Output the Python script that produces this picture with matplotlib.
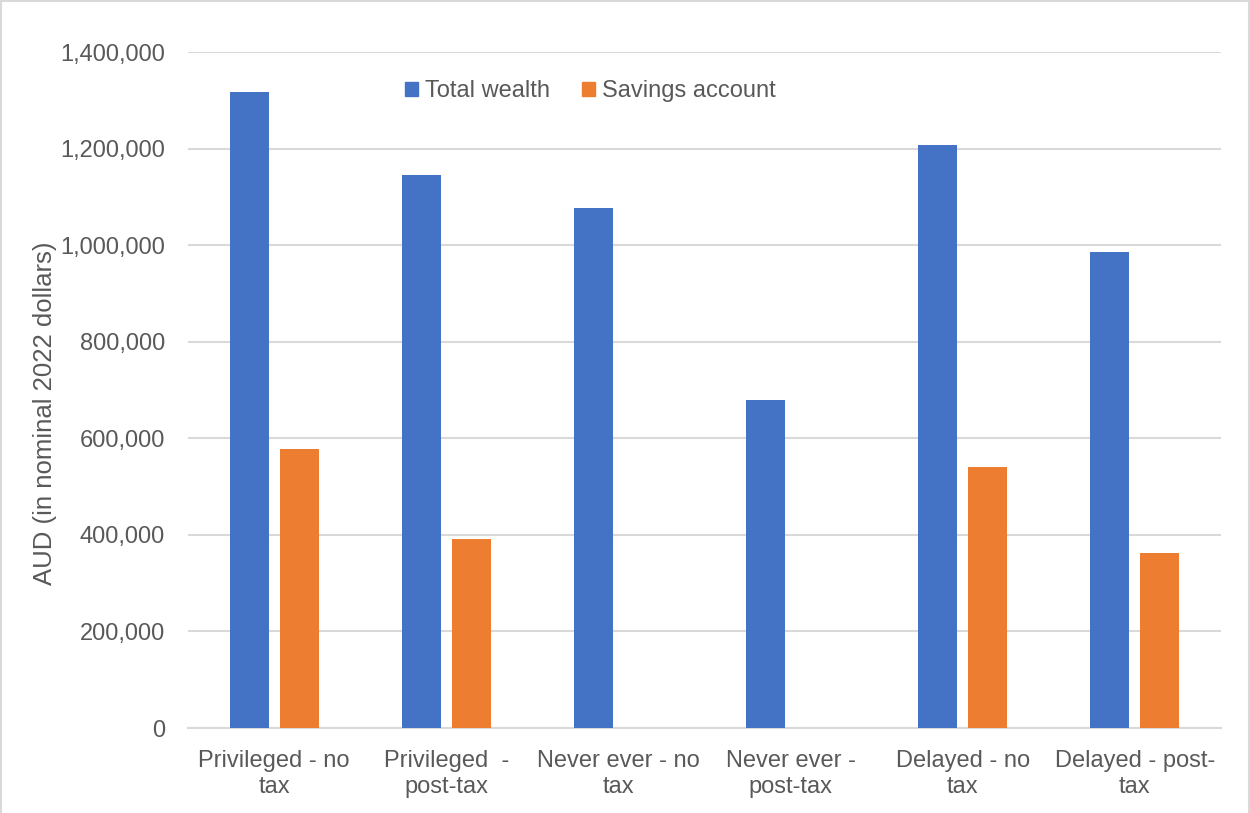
import matplotlib
matplotlib.use("Agg")
import matplotlib.pyplot as plt
import numpy as np
from matplotlib.ticker import FuncFormatter, MultipleLocator
from matplotlib.lines import Line2D

categories = ["Privileged - no\ntax", "Privileged  -\npost-tax", "Never ever - no\ntax",
              "Never ever -\npost-tax", "Delayed - no\ntax", "Delayed - post-\ntax"]
total_wealth = [1317000, 1145000, 1077000, 679000, 1208000, 986000]
savings_account = [578000, 392000, 0, 0, 541000, 362000]
series_names = ["Total wealth", "Savings account"]
colors = ["#4472C4", "#ED7D31"]

plt.rcParams['font.family'] = ['Liberation Sans', 'DejaVu Sans']
text_color = "#595959"
grid_color = "#D9D9D9"

fig = plt.figure(figsize=(12.5, 8.13), dpi=100)
ax = fig.add_axes([188/1250, 1-728/813, (1221-188)/1250, (728-52)/813])

x = np.arange(len(categories))
w = 0.226
off = 0.145
ax.bar(x - off, total_wealth, width=w, color=colors[0], label=series_names[0], zorder=3)
ax.bar(x + off, savings_account, width=w, color=colors[1], label=series_names[1], zorder=3)

ax.set_xlim(-0.5, len(categories) - 0.5)
ax.set_ylim(0, 1400000)
ax.yaxis.set_major_locator(MultipleLocator(200000))
ax.yaxis.set_major_formatter(FuncFormatter(lambda v, p: f"{int(v):,}"))
ax.grid(axis='y', color=grid_color, linewidth=1.5, zorder=0)
ax.set_axisbelow(True)
for s in ["top", "right", "left"]:
    ax.spines[s].set_visible(False)
ax.spines["bottom"].set_color(grid_color)
ax.spines["bottom"].set_linewidth(1.5)
ax.tick_params(axis='both', length=0, labelsize=17, colors=text_color)
ax.tick_params(axis='y', pad=16.5)
ax.tick_params(axis='x', pad=15.5)
ax.set_xticks(x)
ax.set_xticklabels(categories, linespacing=1.25)

fig.text(45/1250, 1-413/813, "AUD (in nominal 2022 dollars)", rotation=90,
         ha='center', va='center', fontsize=18.5, color=text_color)

handles = [plt.Rectangle((0, 0), 1, 1, color=c) for c in colors]
leg = ax.legend(handles, series_names, loc='center', bbox_to_anchor=(0.3896, (728-91)/676),
                ncol=2, frameon=False, fontsize=17, labelcolor=text_color,
                handlelength=0.55, handleheight=0.55, handletextpad=0.3, columnspacing=1.36)

# chart border (top, left, right)
fig.add_artist(Line2D([1.5/1250, 1248.5/1250], [1-1.5/813, 1-1.5/813], color=grid_color, lw=1.5))
fig.add_artist(Line2D([1.5/1250, 1.5/1250], [0, 1-1.5/813], color=grid_color, lw=1.5))
fig.add_artist(Line2D([1248.5/1250, 1248.5/1250], [0, 1-1.5/813], color=grid_color, lw=1.5))

fig.savefig("out.png", dpi=100)
